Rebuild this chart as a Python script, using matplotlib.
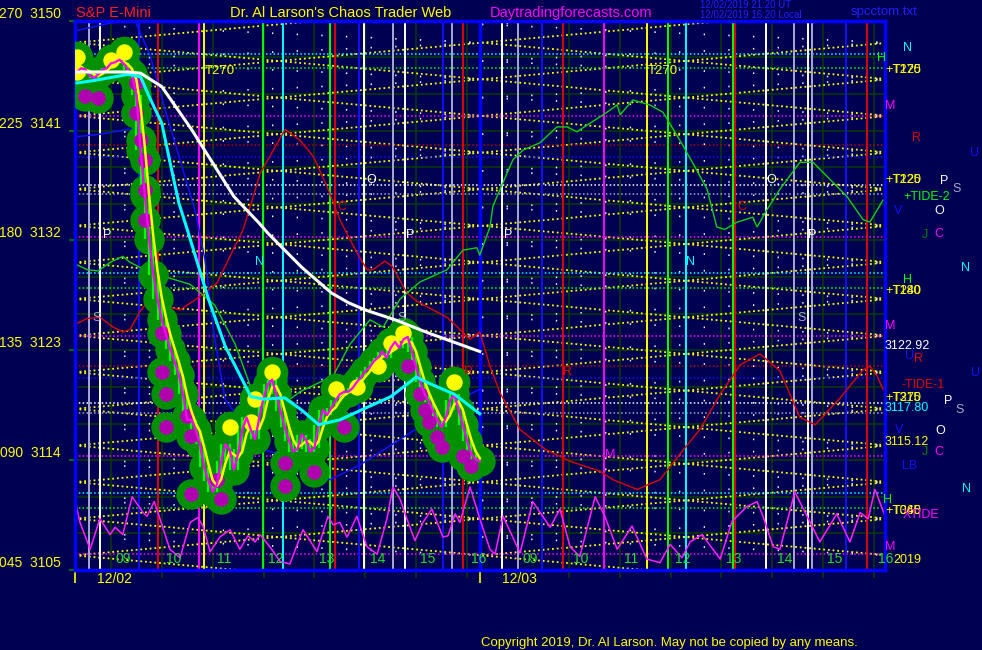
import matplotlib
matplotlib.use('Agg')
import matplotlib.pyplot as plt
import numpy as np
import pandas as pd

BG = '#000052'
plt.rcParams['font.family'] = ['Liberation Sans', 'DejaVu Sans']

# x axis = 5 minute bar number, bar 0 = 12/02 08:20, bar 96 = 12/03 08:20
BARS_PER_DAY = 96

# S&P E-Mini closes, 12/02
close = [3145.8, 3146.1, 3146.0, 3145.5, 3145.3, 3145.6, 3146.0, 3146.1, 3146.5, 3146.6,
         3146.8, 3146.5, 3146.0, 3145.6, 3143.9, 3139.4, 3135.7, 3132.1, 3129.2, 3127.2,
         3125.5, 3124.3, 3123.1, 3122.1, 3121.0, 3119.4, 3117.3, 3117.3, 3116.5, 3115.3,
         3113.4, 3112.3, 3111.4, 3112.0, 3113.9, 3115.3, 3114.9, 3113.2, 3114.5, 3116.5,
         3117.5, 3116.5, 3115.7, 3117.5, 3119.1, 3120.2, 3120.6, 3119.4, 3118.0, 3116.7,
         3115.6, 3114.7, 3114.9, 3116.1, 3115.7, 3114.7, 3115.0, 3116.9, 3118.1, 3117.7,
         3118.3, 3118.9, 3119.4, 3119.6, 3119.6, 3119.9, 3120.4, 3120.8, 3121.3, 3121.6,
         3122.1, 3122.4, 3122.9, 3122.4, 3123.2, 3123.7, 3123.2, 3123.9, 3124.1, 3122.9,
         3121.6, 3120.4, 3119.4, 3118.8, 3118.0, 3117.3, 3116.7, 3117.5, 3118.9, 3119.4,
         3118.1, 3116.9, 3115.6, 3114.5, 3114.1, 3113.9]

# yellow (high) and magenta (low) marker dots: bar, price
hi_dot_bar = [0, 0, 8, 11, 36, 41, 42, 46, 61, 66, 71, 74, 77, 89]
hi_dot_val = [3147.0, 3145.8, 3146.8, 3147.4, 3116.7, 3117.1, 3119.0, 3121.2, 3119.8, 3120.0,
              3121.7, 3123.6, 3124.4, 3120.4]
lo_dot_bar = [2, 5, 14, 14, 15, 16, 16, 16, 20, 20, 21, 21, 26, 27, 27, 33, 34, 49, 49, 56,
              63, 78, 81, 82, 83, 85, 86, 91, 93]
lo_dot_val = [3143.8, 3143.7, 3144.9, 3142.4, 3140.2, 3138.6, 3136.1, 3133.7, 3124.4, 3121.2,
              3119.4, 3116.7, 3117.6, 3116.0, 3111.2, 3112.4, 3110.8, 3113.8, 3111.9, 3113.0,
              3116.7, 3121.7, 3119.4, 3118.1, 3117.1, 3115.9, 3115.1, 3114.3, 3113.5]

# white slow average and cyan average
white_bar = [0, 5, 12, 15, 20, 27, 29, 35, 37, 43, 45, 53, 60, 64, 68, 75, 83, 95]
white_val = [3145.8, 3145.8, 3145.8, 3145.7, 3144.6, 3141.1, 3140.0, 3136.7, 3135.6, 3133.4,
             3132.6, 3129.8, 3127.7, 3126.9, 3126.3, 3125.5, 3124.4, 3122.9]
cyan_bar = [0, 4, 12, 15, 17, 20, 22, 24, 26, 31, 35, 41, 44, 49, 53, 57, 62, 67, 74, 80,
            83, 89, 95]
cyan_val = [3144.9, 3145.1, 3145.6, 3145.4, 3143.8, 3141.6, 3138.3, 3135.1, 3132.9, 3127.2,
            3123.3, 3119.2, 3119.0, 3119.1, 3118.1, 3116.9, 3117.3, 3118.1, 3119.2, 3120.8,
            3120.3, 3119.4, 3117.8]

# forecast lines over both days
green_bar = [0, 2.4, 5, 7.8, 10.8, 12.5, 17.2, 26.7, 32.5, 37.3, 42, 44.3, 52.6, 60.4, 64.4,
             69.1, 72.2, 76.2, 80.9, 87.3, 91, 94.3, 95, 97.4, 98.1, 99.8, 102.8, 105.2, 109.2,
             113.2, 115.6, 117.9, 121, 125, 127.4, 128.1, 131.1, 135.1, 138.2, 142.2, 145.3,
             148.6, 150.9, 152.8, 155.7, 159.4, 160.4, 162.7, 165.8, 170.5, 173.6, 177.6,
             181.6, 185.4, 187, 190.1]
green_val = [3130.0, 3129.6, 3129.5, 3130.2, 3130.7, 3130.2, 3129.4, 3128.4, 3126.7, 3123.5,
             3119.0, 3117.5, 3119.6, 3120.9, 3123.5, 3125.5, 3124.9, 3127.2, 3128.6, 3129.6,
             3131.2, 3131.4, 3130.8, 3133.1, 3134.8, 3136.2, 3138.6, 3139.4, 3140.0, 3141.3,
             3141.3, 3140.9, 3141.6, 3142.5, 3143.1, 3142.3, 3143.5, 3143.1, 3142.5, 3140.2,
             3138.3, 3136.2, 3133.1, 3132.9, 3133.5, 3133.9, 3133.1, 3134.5, 3136.2, 3138.4,
             3138.4, 3137.0, 3135.6, 3133.7, 3133.5, 3135.3]
red_bar = [0, 2.4, 5.4, 8.5, 10.8, 12.5, 14.9, 17.2, 20.3, 24.3, 29, 33, 39.2, 43.2, 49.1,
           52.6, 55.7, 59, 62, 66, 68.4, 69.8, 72.6, 74.3, 77.8, 80.2, 84, 87.3, 92.7, 95,
           97.4, 99.8, 104.5, 110.4, 116.3, 123.3, 126.4, 132.1, 137.5, 142.2, 146.9, 151.7,
           156.4, 161.1, 165.8, 170.5, 174.1, 180, 185.4, 187, 188.7, 190.1]
red_val = [3125.2, 3125.6, 3125.7, 3124.9, 3124.5, 3124.7, 3126.2, 3127.2, 3126.7, 3126.3,
           3127.4, 3128.5, 3132.9, 3137.5, 3141.1, 3140.2, 3138.9, 3136.4, 3133.7, 3131.0,
           3129.6, 3129.6, 3130.3, 3129.9, 3127.7, 3127.0, 3126.3, 3125.7, 3123.9, 3124.5,
           3121.7, 3119.5, 3116.5, 3114.9, 3113.9, 3113.1, 3112.4, 3111.6, 3112.4, 3114.5,
           3116.5, 3119.4, 3121.8, 3122.7, 3121.3, 3117.5, 3116.9, 3119.1, 3121.4, 3121.7,
           3120.9, 3119.8]
blue_bar = [0, 7.8, 13.7, 17.2, 20.8, 24.3, 27.8, 30.2, 32.5, 34.9, 38.4, 43.2, 47.9, 52.6,
            59.7, 66.7, 76.2, 83.3, 90.3, 95]
blue_val = [3149.2, 3149.8, 3150.0, 3147.2, 3142.7, 3138.6, 3134.5, 3130.4, 3123.9, 3119.0,
            3117.3, 3114.9, 3114.5, 3113.2, 3112.4, 3113.6, 3115.7, 3117.3, 3119.0, 3119.8]
blue2_bar = [0, 5.4, 12, 14.9]
blue2_val = [3140.5, 3140.7, 3141.1, 3141.2]

# XTIDE oscillator drawn in the bottom band
tide_bar = [-0.5, 0.7, 3.1, 5.4, 7.8, 9, 10.8, 13, 15.6, 16.5, 18.2, 19.1, 21.9, 24.3, 26.7,
            28.5, 29.7, 31.4, 33.7, 36.1, 38.4, 40.3, 42, 43.2, 45.5, 47.9, 50.2, 53.3, 56.6,
            59.2, 60.4, 62, 63.7, 66, 68.4, 70.8, 73.1, 74.5, 76.2, 77.8, 79.7, 81.6, 83.7,
            86.3, 87.5, 89.2, 90.3, 92.7, 95, 97.4, 98.6, 100.5, 104.5, 107.5, 111.6, 113.9,
            116.3, 118.6, 122.2, 124.5, 127.4, 130.9, 134.4, 137.5, 139.9, 142.7, 144.6,
            147.4, 151.7, 154.5, 158, 160.4, 161.8, 164.2, 165.8, 169.3, 172.2, 175.2, 179.2,
            182.3, 184.7, 186.6, 188.2, 190.6]
tide_val = [3110.8, 3108.9, 3106.7, 3109.2, 3107.9, 3108.5, 3107.9, 3111.0, 3109.7, 3109.4,
            3110.6, 3109.7, 3106.7, 3106.0, 3108.9, 3109.3, 3108.6, 3106.5, 3107.7, 3108.3,
            3106.7, 3107.8, 3107.3, 3107.9, 3106.9, 3105.7, 3105.5, 3108.3, 3106.5, 3109.4,
            3108.7, 3108.9, 3107.7, 3109.4, 3106.9, 3106.3, 3109.2, 3111.8, 3110.8, 3109.2,
            3107.4, 3108.9, 3110.0, 3107.7, 3107.8, 3109.6, 3108.9, 3111.8, 3109.2, 3106.7,
            3106.3, 3109.4, 3106.4, 3110.6, 3108.5, 3110.0, 3106.9, 3106.1, 3111.0, 3109.4,
            3106.7, 3108.6, 3105.9, 3105.6, 3107.1, 3106.0, 3107.3, 3107.9, 3105.9, 3109.0,
            3110.2, 3110.6, 3109.4, 3106.9, 3106.7, 3111.4, 3109.4, 3107.3, 3109.6, 3107.3,
            3109.7, 3109.2, 3111.6, 3109.4]

# astro timing lines (bar, colour)
vline_bar = [2.8, 5.4, 14.6, 19.1, 28.8, 30.0, 43.9, 48.6, 59.7, 60.8, 66.5, 67.7, 74.5, 77.4,
             86.3, 88.4, 91.0, 100.2, 104.0, 109.7, 114.6, 124.3, 134.4, 139.4, 143.6, 154.8,
             155.2, 162.5, 169.1, 172.4, 173.3, 181.4, 186.3]
vline_col = ['gray', 'white', 'blue', 'red', 'magenta', 'yellow', 'lime', 'cyan', 'lime', 'red',
             'blue', 'white', 'gray', 'white', 'blue', 'gray', 'red', 'white', 'gray', 'blue',
             'red', 'magenta', 'yellow', 'lime', 'cyan', 'lime', 'red', 'white', 'gray',
             'white', 'gray', 'blue', 'red']

# price levels (dotted horizontals)
level_val = [3147.3, 3129.3, 3111.3, 3146.1, 3128.1, 3110.1, 3142.2, 3124.2, 3106.3, 3132.3,
             3114.3, 3139.8, 3121.7, 3138.8, 3120.7, 3136.5, 3118.7, 3135.8, 3117.9]
level_col = ['cyan', 'cyan', 'cyan', 'lime', 'lime', 'lime', 'magenta', 'magenta', 'magenta',
             'magenta', 'magenta', 'darkred', 'darkred', 'blue', 'blue', 'white', 'white',
             'gray', 'gray']

# yellow fan lattice: node prices at each day's open/close
lattice_nodes = [3106.2, 3109.2, 3112.2, 3115.2, 3118.2, 3121.2, 3124.2, 3127.2, 3130.2,
                 3133.2, 3136.2, 3139.2, 3142.2, 3145.2, 3148.2]
lattice_step = 3.0

hour_labels = ['09', '10', '11', '12', '13', '14', '15', '16']
ytick_val = [3105, 3114, 3123, 3132, 3141, 3150]
ytick_deg = ['045', '090', '135', '180', '225', '270']

COL = {'gray': '#a8a8d0', 'white': '#ffffff', 'blue': '#1010ff', 'red': '#e00000',
       'magenta': '#ff00ff', 'yellow': '#ffff00', 'lime': '#00ff00', 'cyan': '#00ffff',
       'darkred': '#b00000', 'green': '#008000'}

fig = plt.figure(figsize=(9.82, 6.5), dpi=100, facecolor=BG)
ax = fig.add_axes([75 / 982, 80 / 650, 810 / 982, 549.3 / 650])
ax.set_facecolor(BG)
ax.set_xlim(-0.47, 190.57)
ax.set_ylim(3105, 3150)

# grid
for p in np.arange(3105, 3151, 3):
    ax.axhline(p, color='#073807', lw=1.2, zorder=1)
for d in range(2):
    for h in range(8):
        ax.axvline(d * BARS_PER_DAY + 8 + 12 * h, color='#073807', lw=1.2, zorder=1)

# lattice of yellow dotted fan lines, one set per day
for d in range(2):
    x0 = d * BARS_PER_DAY - 0.5
    x1 = x0 + BARS_PER_DAY
    for c in lattice_nodes:
        for sgn in (1, -1):
            ax.plot([x0, x1], [c, c + sgn * lattice_step], color='#ffff00', lw=1.3,
                    ls=(0, (1, 1.6)), zorder=1.5)
            ax.plot([x0, x1], [c + 1.5, c + 1.5 + sgn * lattice_step * 0.5], color='#ffffff',
                    lw=1.2, ls=(0, (0.8, 14)), zorder=1.5)

for p, c in zip(level_val, level_col):
    ax.axhline(p, color=COL[c], lw=1.1, ls=(0, (1, 1.5)), zorder=1.6)

for b, c in zip(vline_bar, vline_col):
    ax.axvline(b, color=COL[c], lw=1.4, zorder=1.8)
ax.axvline(95, color='#0000ff', lw=2.5, zorder=1.9)

# forecast lines
ax.plot(tide_bar, tide_val, color='#ff20ff', lw=1.1, zorder=2)
ax.plot(blue_bar, blue_val, color='#1010ff', lw=1.1, zorder=2)
ax.plot(blue2_bar, blue2_val, color='#1010ff', lw=1.1, zorder=2)
ax.plot(red_bar, red_val, color='#e00000', lw=1.0, zorder=2)
ax.plot(green_bar, green_val, color='#10d010', lw=1.0, zorder=2)

# price
bars = np.arange(len(close))
cs = pd.Series(close)
lo = cs.rolling(3, center=True, min_periods=1).min()
hi = cs.rolling(3, center=True, min_periods=1).max()
ax.scatter(bars, close, s=480, color='#009000', lw=0, zorder=3)
ax.scatter(hi_dot_bar, hi_dot_val, s=520, color='#009000', lw=0, zorder=3)
ax.scatter(lo_dot_bar, lo_dot_val, s=480, color='#009000', lw=0, zorder=3)
ax.vlines(bars, lo, hi, color='#00ff00', lw=1.6, zorder=3.5)
ax.scatter(hi_dot_bar, hi_dot_val, s=140, color='#ffff00', lw=0, zorder=4)
ax.scatter(lo_dot_bar, lo_dot_val, s=110, color='#b000b0', lw=0, zorder=4)
ax.plot(bars, cs.rolling(3, min_periods=1).mean(), color='#ffff00', lw=1.8, zorder=5)
ax.plot(bars, close, color='#ff00ff', lw=1.6, zorder=5)
ax.plot(cyan_bar, cyan_val, color='#00ffff', lw=2.2, zorder=6)
ax.plot(white_bar, white_val, color='#ffffff', lw=2.2, zorder=6)

# axes decoration
for s in ax.spines.values():
    s.set_color('#0000ff')
    s.set_linewidth(2.5)
ax.set_yticks(ytick_val)
ax.set_yticklabels([f'{a}  {b}' for a, b in zip(ytick_deg, ytick_val)], color='#ffff00',
                   fontsize=10, va='bottom')
ax.tick_params(axis='y', colors='#008000', labelcolor='#ffff00', length=4, width=1.2, pad=6)
ax.set_xticks([d * BARS_PER_DAY + 8 + 12 * h for d in range(2) for h in range(8)])
ax.set_xticklabels([])
ax.tick_params(axis='x', colors='#073807', length=6, width=1.2)
ax.set_xticks([-0.47, 95], minor=True)
ax.tick_params(axis='x', which='minor', colors='#ffff00', length=9, width=1.2)

for d in range(2):
    for h, lab in enumerate(hour_labels):
        ax.text(d * BARS_PER_DAY + 9 + 12 * h, 3105.9, lab, color='#20e020', fontsize=10,
                ha='left', va='center', zorder=7)


def ftxt(x, y, s, color, size=9.5, **kw):
    fig.text(x / 982, 1 - y / 650, s, color=color, fontsize=size, va='center', **kw)


ftxt(76, 13, 'S&P E-Mini', '#ff2020', 10.5)
ftxt(230, 13, "Dr. Al Larson's Chaos Trader Web", '#ffff00', 10.5)
ftxt(490, 13, 'Daytradingforecasts.com', '#ff00ff', 10.5)
ftxt(700, 5, '12/02/2019 21:20 UT', '#2020ff', 7)
ftxt(700, 15, '12/02/2019 16:20 Local', '#2020ff', 7)
ftxt(851, 12, 'spcctom.txt', '#2020ff', 9.5)
ftxt(97, 579, '12/02', '#ffff00', 10)
ftxt(502, 579, '12/03', '#ffff00', 10)
ftxt(481, 643, 'Copyright 2019, Dr. Al Larson. May not be copied by any means.', '#ffff00', 9.5)

# labels inside the chart
ftxt(205, 71, 'T270', '#ffff00', 9.5)
ftxt(648, 71, 'T270', '#ffff00', 9.5)
for x, y, s, c in [(366, 180, 'O', 'white'), (766, 180, 'O', 'white'),
                   (103, 235, 'P', 'white'), (406, 235, 'P', 'white'),
                   (504, 235, 'P', 'white'), (808, 235, 'P', 'white'),
                   (92, 318, 'S', 'gray'), (397, 318, 'S', 'gray'), (797, 318, 'S', 'gray'),
                   (255, 262, 'N', 'cyan'), (686, 262, 'N', 'cyan'),
                   (337, 207, 'C', 'red'), (737, 207, 'C', 'red'),
                   (464, 372, 'R', 'red'), (563, 372, 'R', 'red'), (605, 455, 'M', 'magenta')]:
    ftxt(x, y, s, COL[c], 9)

# right hand labels (the original prints several of them on top of each other)
right = [(903, 48, 'N', 'cyan'), (877, 58, 'H', 'lime'), (885, 70, '+T125', 'yellow'),
         (893, 70, 'T270', 'yellow'), (885, 106, 'M', 'magenta'), (912, 138, 'R', 'red'),
         (970, 153, 'U', 'blue'), (940, 181, 'P', 'white'), (952, 189, 'S', 'gray'),
         (885, 180, '+T120', 'yellow'), (893, 180, 'T225', 'yellow'),
         (903, 197, '+TIDE-2', 'lime'), (894, 211, 'V', 'blue'), (934, 211, 'O', 'white'),
         (922, 235, 'J', 'green'), (934, 234, 'C', 'magenta'), (961, 268, 'N', 'cyan'),
         (903, 280, 'H', 'lime'), (885, 291, '+T240', 'yellow'), (893, 291, 'T180', 'yellow'),
         (885, 326, 'M', 'magenta'), (885, 346, '3122.92', 'white'), (905, 356, 'U', 'blue'),
         (914, 359, 'R', 'red'), (971, 373, 'U', 'blue'), (902, 385, '-TIDE-1', 'red'),
         (885, 398, '+T270', 'yellow'), (893, 398, 'T315', 'yellow'), (944, 401, 'P', 'white'),
         (955, 410, 'S', 'gray'), (885, 408, '3117.80', 'cyan'), (895, 430, 'V', 'blue'),
         (935, 431, 'O', 'white'), (885, 442, '3115.12', 'yellow'), (922, 452, 'J', 'green'),
         (934, 452, 'C', 'magenta'), (902, 466, 'LB', 'blue'), (962, 489, 'N', 'cyan'),
         (883, 500, 'H', 'lime'), (885, 511, '+T360', 'yellow'), (893, 511, 'T045', 'yellow'),
         (903, 515, 'XTIDE', 'magenta'), (885, 547, 'M', 'magenta'), (893, 560, '2019', 'yellow')]
for x, y, s, c in right:
    ftxt(x, y, s, COL[c], 9)

fig.savefig('out.png', dpi=100, facecolor=BG)
